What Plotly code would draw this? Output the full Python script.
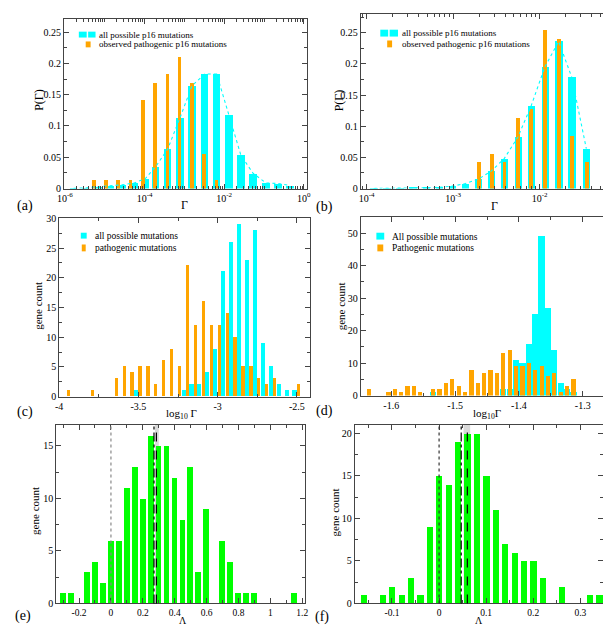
import numpy as np
import plotly.graph_objects as go

W, H = 611, 625
FONT = "Liberation Serif, Times New Roman, Tinos, DejaVu Serif, serif"
CYAN = "#00FFFF"
ORANGE = "#FFA500"
GREEN = "#00FF00"
FRAME = "#444444"

# ---------------- data ----------------
# (a) p16, log10(Gamma) bin centres
a_all_log10_gamma = [-5.78, -5.48, -5.17, -4.87, -4.56, -4.26, -3.98, -3.72, -3.42, -3.11,
                     -2.81, -2.49, -2.19, -1.88, -1.58, -1.27, -0.95, -0.64, -0.35]
a_all_p = [0.0005, 0.001, 0.003, 0.004, 0.006, 0.009, 0.016, 0.035, 0.063, 0.113,
           0.164, 0.183, 0.183, 0.117, 0.053, 0.024, 0.009, 0.008, 0.005]
a_obs_log10_gamma = [-5.27, -4.96, -4.66, -4.35, -4.04, -3.73, -3.42, -3.12, -2.81, -2.50, -2.19]
a_obs_p = [0.014, 0.014, 0.014, 0.014, 0.141, 0.169, 0.183, 0.211, 0.169, 0.056, 0.014]

# (b)
b_all_log10_gamma = [-3.92, -3.77, -3.62, -3.47, -3.31, -3.16, -3.01, -2.86, -2.71, -2.56,
                     -2.41, -2.25, -2.10, -1.94, -1.78, -1.63, -1.46]
b_all_p = [0.0002, 0.0003, 0.0005, 0.001, 0.0015, 0.002, 0.004, 0.008, 0.015, 0.028,
           0.048, 0.083, 0.132, 0.195, 0.236, 0.179, 0.064]
b_obs_log10_gamma = [-2.71, -2.56, -2.41, -2.25, -2.10, -1.94, -1.78, -1.63, -1.46]
b_obs_p = [0.042, 0.056, 0.042, 0.113, 0.127, 0.254, 0.240, 0.085, 0.042]

# (c)
c_all_bins = [-3.5, -3.2, -3.15, -3.1, -3.05, -3.0, -2.95, -2.9, -2.85, -2.8, -2.75, -2.7,
              -2.65, -2.6, -2.55, -2.5]
c_all_counts = [1, 1, 2, 2, 4, 8, 21, 26, 29, 23, 28, 9, 5, 2, 1, 1]
c_path_bins = [-3.95, -3.8, -3.65, -3.6, -3.55, -3.5, -3.45, -3.4, -3.35, -3.3, -3.25, -3.2,
               -3.15, -3.1, -3.05, -3.0, -2.95, -2.9, -2.85, -2.8, -2.75, -2.7, -2.65, -2.5]
c_path_counts = [1, 1, 3, 5, 4, 5, 5, 2, 6, 8, 5, 22, 12, 16, 12, 12, 14, 10, 5, 5, 3, 2, 3, 2]

# (d)
d_all_bins = [-1.535, -1.425, -1.415, -1.405, -1.395, -1.385, -1.375, -1.365, -1.355, -1.345,
              -1.335, -1.325, -1.315]
d_all_counts = [1, 2, 2, 11, 10, 16, 25, 49, 27, 14, 4, 2, 1]
d_path_bins = [-1.635, -1.605, -1.595, -1.585, -1.575, -1.565, -1.555, -1.535, -1.525, -1.515,
               -1.505, -1.495, -1.485, -1.475, -1.465, -1.455, -1.445, -1.435, -1.425, -1.415,
               -1.405, -1.395, -1.385, -1.375, -1.365, -1.355, -1.345, -1.335, -1.325, -1.315,
               -1.265]
d_path_counts = [2, 1, 2, 1, 3, 3, 1, 2, 2, 4, 5, 3, 1, 8, 4, 7, 8, 7, 13, 14, 9, 9, 10, 8, 9,
                 6, 7, 1, 3, 5, 1]

# (e)
e_lambda = [-0.3, -0.25, -0.2, -0.15, -0.1, -0.05, 0.0, 0.05, 0.1, 0.15, 0.2, 0.25, 0.3, 0.35,
            0.4, 0.45, 0.5, 0.55, 0.6, 0.65, 0.7, 0.75, 0.8, 0.85, 0.9, 0.95, 1.0, 1.05, 1.1, 1.15]
e_counts = [1, 1, 0, 3, 4, 2, 6, 6, 11, 13, 10, 16, 15, 15, 12, 8, 13, 3, 9, 0, 6, 4, 1, 1, 1,
            0, 0, 0, 0, 1]
e_median, e_mean, e_band = 0.27, 0.285, (0.276, 0.300)

# (f)
f_lambda = [-0.16, -0.14, -0.12, -0.1, -0.08, -0.06, -0.04, -0.02, 0.0, 0.02, 0.04, 0.06, 0.08,
            0.1, 0.12, 0.14, 0.16, 0.18, 0.2, 0.22, 0.24, 0.26, 0.28, 0.3, 0.32, 0.34]
f_counts = [1, 0, 1, 2, 1, 3, 1, 9, 15, 14, 19, 20, 20, 15, 11, 7, 6, 5, 5, 3, 0, 2, 0, 0, 1, 1]
f_median, f_mean, f_band = 0.047, 0.06, (0.052, 0.066)

# tick labels
a_xticks = [-6, -4, -2, 0]
a_xticktext = ["10<sup>-6</sup>", "10<sup>-4</sup>", "10<sup>-2</sup>", "10<sup>0</sup>"]
b_xticks = [-4, -3, -2]
b_xticktext = ["10<sup>-4</sup>", "10<sup>-3</sup>", "10<sup>-2</sup>"]
c_xticks = [-4, -3.5, -3, -2.5]
c_xticktext = ["-4", "-3.5", "-3", "-2.5"]
d_xticks = [-1.6, -1.5, -1.4, -1.3]
d_xticktext = ["-1.6", "-1.5", "-1.4", "-1.3"]
e_xticks = [-0.2, 0, 0.2, 0.4, 0.6, 0.8, 1.0, 1.2]
e_xticktext = ["-0.2", "0", "0.2", "0.4", "0.6", "0.8", "1", "1.2"]
f_xticks = [-0.1, 0, 0.1, 0.2, 0.3]
f_xticktext = ["-0.1", "0", "0.1", "0.2", "0.3"]


# ---------------- helpers ----------------
def px(x):
    return x / W


def py(y):
    return 1 - y / H


def xdom(l, r):
    return [px(l), px(r)]


def ydom(t, b):
    return [py(b), py(t)]


def axis(domain, rng, anchor, minor=None, fsize=10, **kw):
    d = dict(domain=domain, range=rng, anchor=anchor, showline=True, linecolor=FRAME,
             linewidth=1, mirror="allticks", ticks="inside", ticklen=5, tickwidth=1,
             tickcolor=FRAME, showgrid=False, zeroline=False, ticklabelstandoff=0,
             tickfont=dict(family=FONT, size=fsize, color="black"))
    if minor is not None:
        m = dict(ticks="inside", ticklen=3, tickwidth=1, tickcolor=FRAME, showgrid=False)
        m.update(minor)
        d["minor"] = m
    d.update(kw)
    return d


def log_minor(lo, hi):
    vals = []
    for n in range(lo, hi):
        for k in range(1, 10):
            vals.append(float(np.log10(k) + n))
    return vals


fig = go.Figure()

# (a)
fig.add_trace(go.Bar(x=a_all_log10_gamma, y=a_all_p, width=0.19, marker_color=CYAN,
                     marker_line_width=0, xaxis="x", yaxis="y"))
fig.add_trace(go.Scatter(x=a_all_log10_gamma, y=a_all_p, mode="lines",
                         line=dict(color=CYAN, dash="dot", width=1.1), xaxis="x", yaxis="y"))
fig.add_trace(go.Bar(x=a_obs_log10_gamma, y=a_obs_p, width=0.09, marker_color=ORANGE,
                     marker_line_width=0, xaxis="x", yaxis="y"))
# (b)
fig.add_trace(go.Bar(x=b_all_log10_gamma, y=b_all_p, width=0.085, marker_color=CYAN,
                     marker_line_width=0, xaxis="x2", yaxis="y2"))
fig.add_trace(go.Scatter(x=b_all_log10_gamma, y=b_all_p, mode="lines",
                         line=dict(color=CYAN, dash="dot", width=1.1), xaxis="x2", yaxis="y2"))
fig.add_trace(go.Bar(x=b_obs_log10_gamma, y=b_obs_p, width=0.045, marker_color=ORANGE,
                     marker_line_width=0, xaxis="x2", yaxis="y2"))
# (c)
fig.add_trace(go.Bar(x=c_all_bins, y=c_all_counts, width=0.026, offset=-0.027,
                     marker_color=CYAN, marker_line_width=0, xaxis="x3", yaxis="y3"))
fig.add_trace(go.Bar(x=c_path_bins, y=c_path_counts, width=0.02, offset=0.001,
                     marker_color=ORANGE, marker_line_width=0, xaxis="x3", yaxis="y3"))
# (d)
fig.add_trace(go.Bar(x=d_all_bins, y=d_all_counts, width=0.0098, marker_color=CYAN,
                     marker_line_width=0, xaxis="x4", yaxis="y4"))
fig.add_trace(go.Bar(x=d_path_bins, y=d_path_counts, width=0.0066, marker_color=ORANGE,
                     marker_line_width=0, xaxis="x4", yaxis="y4"))
# (e)
fig.add_trace(go.Bar(x=e_lambda, y=e_counts, width=0.037, marker_color=GREEN,
                     marker_line_width=0, xaxis="x5", yaxis="y5"))
# (f)
fig.add_trace(go.Bar(x=f_lambda, y=f_counts, width=0.0132, marker_color=GREEN,
                     marker_line_width=0, xaxis="x6", yaxis="y6"))

# reference lines in (e) and (f)
shapes = []
for xr, yr, med, mean, band, zc in [("x5", "y5", e_median, e_mean, e_band, "#888"),
                                    ("x6", "y6", f_median, f_mean, f_band, "#333")]:
    shapes.append(dict(type="rect", xref=xr, yref=yr + " domain", x0=band[0], x1=band[1],
                       y0=0, y1=1, fillcolor="#d9d9d9", line_width=0, layer="below"))
    shapes.append(dict(type="line", xref=xr, yref=yr + " domain", x0=0, x1=0, y0=0, y1=1,
                       line=dict(color=zc, dash="dot", width=1.2)))
    shapes.append(dict(type="line", xref=xr, yref=yr + " domain", x0=med, x1=med, y0=0, y1=1,
                       line=dict(color="black", dash="dashdot", width=1.2)))
    shapes.append(dict(type="line", xref=xr, yref=yr + " domain", x0=mean, x1=mean, y0=0, y1=1,
                       line=dict(color="black", dash="dash", width=1.2)))

# manual legends
ann = []


def legend_item(sym_boxes, color, tx, ty, text, size):
    for (l, r, t, b) in sym_boxes:
        shapes.append(dict(type="rect", xref="paper", yref="paper", x0=px(l), x1=px(r),
                           y0=py(b), y1=py(t), fillcolor=color, line_width=0))
    ann.append(dict(text=text, x=px(tx), y=py(ty), xref="paper", yref="paper",
                    xanchor="left", yanchor="middle", showarrow=False,
                    font=dict(family=FONT, size=size, color="black")))


legend_item([(65, 73, 18, 24), (74.5, 82, 18, 24)], CYAN, 84, 21,
            "all possible p16 mutations", 9)
legend_item([(72, 77, 28, 34)], ORANGE, 84, 31, "observed pathogenic p16 mutations", 9)
legend_item([(372, 380, 16, 23), (381.5, 390, 16, 23)], CYAN, 392, 19.5,
            "all possible p16 mutations", 9)
legend_item([(379, 384, 27, 34)], ORANGE, 392, 30.5, "observed pathogenic p16 mutations", 9)
legend_item([(67, 73, 223, 229)], CYAN, 79, 226, "all possible mutations", 9.5)
legend_item([(68, 72, 235, 242)], ORANGE, 79, 238.5, "pathogenic mutations", 9.5)
legend_item([(368, 376, 223, 230)], CYAN, 382, 227, "All possible mutations", 9.5)
legend_item([(369, 375, 235, 242)], ORANGE, 382, 238.5, "Pathogenic mutations", 9.5)


def text(t, x, y, size, angle=0):
    ann.append(dict(text=t, x=px(x), y=py(y), xref="paper", yref="paper", xanchor="center",
                    yanchor="middle", showarrow=False, textangle=angle, borderpad=0,
                    font=dict(family=FONT, size=size, color="black")))


for lab, x, y in [("(a)", 10, 196), ("(b)", 315, 197), ("(c)", 10, 406), ("(d)", 315, 405),
                  ("(e)", 8, 614), ("(f)", 313, 615)]:
    text(lab, x, y, 14)
text("P(Γ)", 25, 88, 12, -90)
text("Γ", 173, 195, 12)
text("P(Γ)", 330, 88, 12, -90)
text("Γ", 488, 196, 12)
text("gene count", 24, 298, 11, -90)
text("log<sub>10</sub> Γ", 170, 408, 11)
text("gene count", 332, 298, 11, -90)
text("log<sub>10</sub>Γ", 481, 408, 11)
text("gene count", 21, 507, 11, -90)
text("Λ", 171, 618.5, 10)
text("gene count", 326, 508, 11, -90)
text("Λ", 473, 618.5, 10)

layout = dict(
    width=W, height=H, margin=dict(l=0, r=0, t=0, b=0), paper_bgcolor="white",
    plot_bgcolor="white", showlegend=False, barmode="overlay", bargap=0,
    shapes=shapes, annotations=ann, font=dict(family=FONT, size=10),
    xaxis=axis(xdom(50, 297), [-6.02, 0.07], "y", tickmode="array", tickvals=a_xticks,
               ticktext=a_xticktext,
               minor=dict(tickmode="array", tickvals=log_minor(-6, 0))),
    yaxis=axis(ydom(5, 178), [0, 0.271], "x", dtick=0.05, minor=dict(dtick=0.025)),
    xaxis2=axis(xdom(352, 610), [-4.07, -1.14], "y2", tickmode="array", tickvals=b_xticks,
                ticktext=b_xticktext,
                minor=dict(tickmode="array", tickvals=log_minor(-5, -1))),
    yaxis2=axis(ydom(0, 178), [0, 0.28], "x2", dtick=0.05, minor=dict(dtick=0.025)),
    xaxis3=axis(xdom(45, 300), [-4.0, -2.42], "y3", tickmode="array", tickvals=c_xticks,
                ticktext=c_xticktext, minor=dict(dtick=0.25, tick0=0)),
    yaxis3=axis(ydom(208.5, 390), [0, 30], "x3", dtick=5, minor=dict(dtick=2.5)),
    xaxis4=axis(xdom(352, 610), [-1.648, -1.251], "y4", tickmode="array", tickvals=d_xticks,
                ticktext=d_xticktext, minor=dict(dtick=0.05, tick0=0)),
    yaxis4=axis(ydom(207, 389), [0, 55], "x4", dtick=10, minor=dict(dtick=5)),
    xaxis5=axis(xdom(42, 295), [-0.343, 1.215], "y5", tickmode="array", tickvals=e_xticks,
                ticktext=e_xticktext, minor=dict(dtick=0.1, tick0=0), fsize=9.5),
    yaxis5=axis(ydom(419, 601), [0, 17], "x5", dtick=5, minor=dict(dtick=2.5)),
    xaxis6=axis(xdom(346, 599), [-0.179, 0.3485], "y6", tickmode="array", tickvals=f_xticks,
                ticktext=f_xticktext, minor=dict(dtick=0.05, tick0=0), fsize=9.5),
    yaxis6=axis(ydom(419, 601), [0, 21], "x6", dtick=5, minor=dict(dtick=2.5)),
)
fig.update_layout(**layout)
fig.write_html("out.html")
